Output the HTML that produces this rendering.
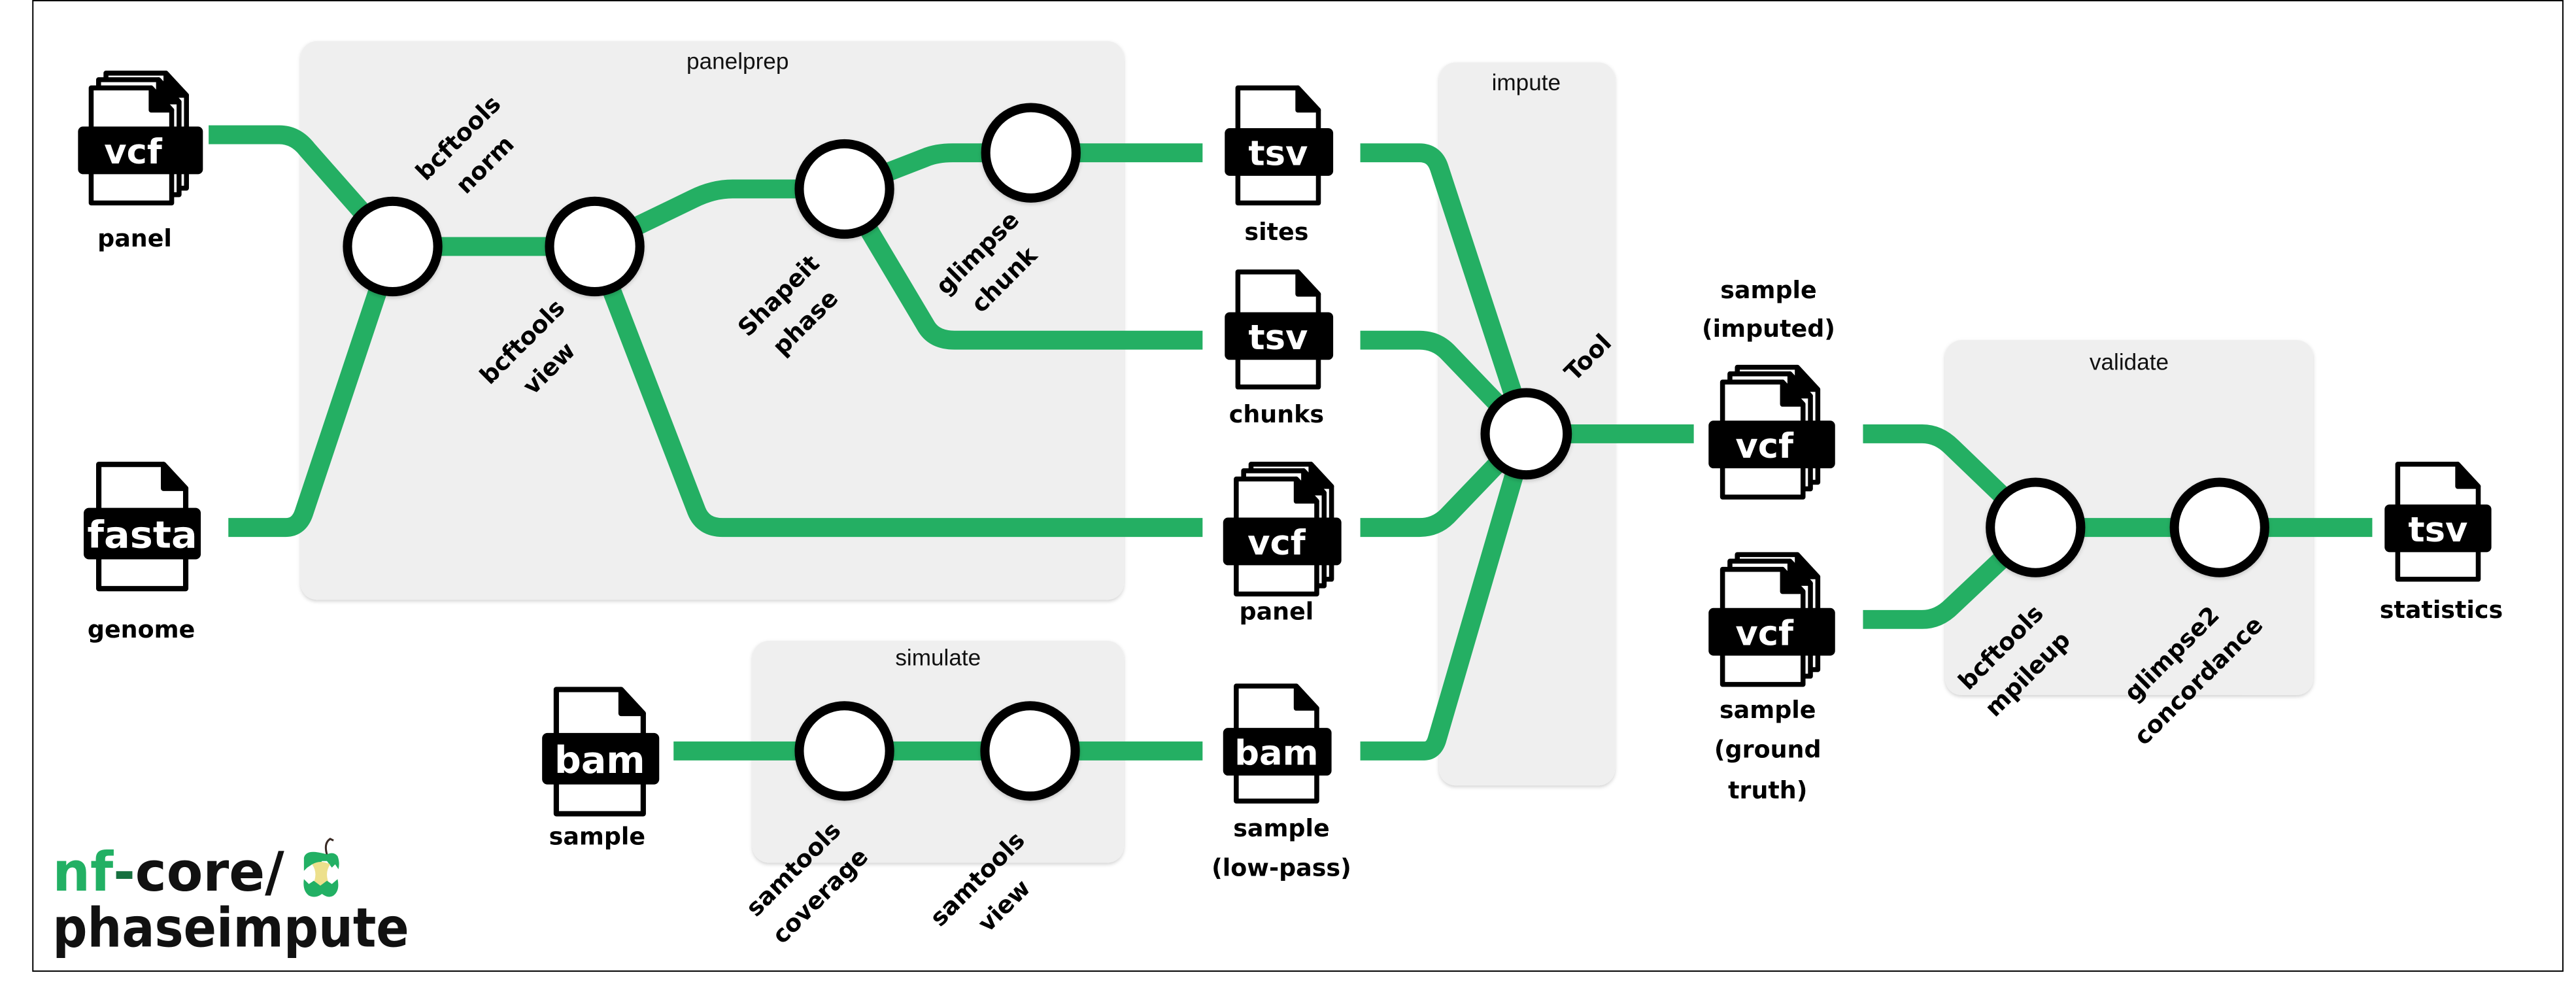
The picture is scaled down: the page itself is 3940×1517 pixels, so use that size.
<!DOCTYPE html>
<html><head><meta charset="utf-8"><style>
html,body{margin:0;padding:0;background:#fff;}
svg{display:block;}
.lbl{font-family:"DejaVu Sans","Liberation Sans",sans-serif;font-weight:bold;font-size:14.5px;text-anchor:middle;fill:#000;}
.box{font-family:"Liberation Sans",sans-serif;font-size:14px;text-anchor:middle;fill:#111;}
.ic{font-family:"DejaVu Sans","Liberation Sans",sans-serif;font-weight:bold;font-size:21px;text-anchor:middle;fill:#fff;}
.ln{fill:none;stroke:#24AF63;stroke-width:11.5;stroke-linejoin:round;}
.nd{fill:#fff;stroke:#000;stroke-width:5.6;}
.pg{fill:#fff;stroke:#000;stroke-width:3;stroke-linejoin:round;}
.fd{fill:#000;stroke:#000;stroke-width:3;stroke-linejoin:round;}
</style></head><body>
<svg width="3940" height="1517" viewBox="0 0 1568 603.7" preserveAspectRatio="none" xmlns="http://www.w3.org/2000/svg">
<defs>
<filter id="sh" x="-10%" y="-10%" width="120%" height="120%"><feDropShadow dx="0" dy="1" stdDeviation="1.2" flood-color="#000" flood-opacity="0.18"/></filter>
</defs>
<rect x="0" y="0" width="1568" height="603.7" fill="#fff"/>
<rect x="20" y="0.4" width="1540" height="590.6" fill="none" stroke="#000" stroke-width="0.8"/>

<!-- group boxes -->
<rect x="183" y="25" width="501" height="340" rx="10" fill="#efefef" filter="url(#sh)"/>
<rect x="458" y="390" width="226" height="135" rx="10" fill="#efefef" filter="url(#sh)"/>
<rect x="876" y="38" width="107" height="440" rx="10" fill="#efefef" filter="url(#sh)"/>
<rect x="1184" y="207" width="224" height="216" rx="10" fill="#efefef" filter="url(#sh)"/>
<text class="box" x="449" y="42">panelprep</text>
<text class="box" x="571" y="405">simulate</text>
<text class="box" x="929" y="55">impute</text>
<text class="box" x="1296" y="225">validate</text>

<!-- lines -->
<path class="ln" d="M127,82 H170 Q180,82 187,91 L239,150"/>
<path class="ln" d="M139,321 H174 Q182,321 185,312 L239,150"/>
<path class="ln" d="M239,150 H362"/>
<path class="ln" d="M362,150 L422,121 Q434,115 446,115 H514"/>
<path class="ln" d="M362,150 L424,311 Q428,321 440,321 H732"/>
<path class="ln" d="M514,115 L563,96 Q570,93 580,93 H627"/>
<path class="ln" d="M514,115 L564,199 Q569,207 581,207 H732"/>
<path class="ln" d="M627,93 H732"/>
<path class="ln" d="M828,93 H864 Q873,93 876,102 L929,264"/>
<path class="ln" d="M828,207 H864 Q874,207 881,214 L929,264"/>
<path class="ln" d="M828,321 H864 Q874,321 881,314 L929,264"/>
<path class="ln" d="M828,457 H867 Q873,457 875,449 L929,264"/>
<path class="ln" d="M929,264 H1031"/>
<path class="ln" d="M1134,264 H1170 Q1180,264 1188,272 L1239,321"/>
<path class="ln" d="M1134,377 H1170 Q1180,377 1188,369 L1239,321"/>
<path class="ln" d="M1239,321 H1444"/>
<path class="ln" d="M410,457 H732"/>

<!-- nodes -->
<g filter="url(#sh)">
<circle class="nd" cx="239" cy="150" r="27.5"/>
<circle class="nd" cx="362" cy="150" r="27.5"/>
<circle class="nd" cx="514" cy="115" r="27.5"/>
<circle class="nd" cx="627.5" cy="93" r="27.5"/>
<circle class="nd" cx="929" cy="264" r="25"/>
<circle class="nd" cx="514" cy="457" r="27.5"/>
<circle class="nd" cx="627" cy="457" r="27.5"/>
<circle class="nd" cx="1239" cy="321" r="27.5"/>
<circle class="nd" cx="1351" cy="321" r="27.5"/>
</g>

<!-- node labels -->
<g transform="translate(287,92) rotate(-45)"><text class="lbl" y="-6.5">bcftools</text><text class="lbl" y="16.5">norm</text></g>
<g transform="translate(326,216) rotate(-45)"><text class="lbl" y="-6.5">bcftools</text><text class="lbl" y="16.5">view</text></g>
<g transform="translate(482,188) rotate(-45)"><text class="lbl" y="-6.5">Shapeit</text><text class="lbl" y="16.5">phase</text></g>
<g transform="translate(603,162) rotate(-45)"><text class="lbl" y="-6.5">glimpse</text><text class="lbl" y="16.5">chunk</text></g>
<g transform="translate(966.5,217.5) rotate(-45)"><text class="lbl" y="5">Tool</text></g>
<g transform="translate(491,537) rotate(-45)"><text class="lbl" y="-6.5">samtools</text><text class="lbl" y="16.5">coverage</text></g>
<g transform="translate(603,543) rotate(-45)"><text class="lbl" y="-6.5">samtools</text><text class="lbl" y="16.5">view</text></g>
<g transform="translate(1226,402) rotate(-45)"><text class="lbl" y="-6.5">bcftools</text><text class="lbl" y="16.5">mpileup</text></g>
<g transform="translate(1330,406) rotate(-45)"><text class="lbl" y="-6.5">glimpse2</text><text class="lbl" y="16.5">concordance</text></g>

<!-- icons: multi vcf panel (left) -->
<g transform="translate(54,52)">
<path class="pg" d="M10.5,-7.5 H47 L59.5,6 V62.5 H10.5 Z"/><path class="fd" d="M47,-7.5 L59.5,6 H47 Z"/>
<path class="pg" d="M6,-3.5 H42.5 L55,10 V66.5 H6 Z"/><path class="fd" d="M42.5,-3.5 L55,10 H42.5 Z"/>
<path class="pg" d="M1.5,1.5 H38 L50.5,15 V71.5 H1.5 Z"/><path class="fd" d="M38,1.5 L50.5,15 H38 Z"/>
<rect x="-6.5" y="25" width="76" height="29" rx="3"/><text class="ic" x="27" y="47.5">vcf</text>
</g>
<text class="lbl" x="82" y="150">panel</text>

<!-- genome fasta -->
<g transform="translate(58.5,281) scale(1.08)">
<path class="pg" d="M1.5,1.5 H38 L50.5,15 V71.5 H1.5 Z"/><path class="fd" d="M38,1.5 L50.5,15 H38 Z"/>
<rect x="-7" y="26" width="66" height="29" rx="3"/><text class="ic" x="26" y="48.5" textLength="62" lengthAdjust="spacingAndGlyphs">fasta</text>
</g>
<text class="lbl" x="86" y="388">genome</text>

<!-- sites tsv -->
<g transform="translate(752,52)">
<path class="pg" d="M1.5,1.5 H38 L50.5,15 V71.5 H1.5 Z"/><path class="fd" d="M38,1.5 L50.5,15 H38 Z"/>
<rect x="-6.5" y="26" width="66" height="29" rx="3"/><text class="ic" x="26" y="48.5">tsv</text>
</g>
<text class="lbl" x="777" y="146">sites</text>

<!-- chunks tsv -->
<g transform="translate(752,164)">
<path class="pg" d="M1.5,1.5 H38 L50.5,15 V71.5 H1.5 Z"/><path class="fd" d="M38,1.5 L50.5,15 H38 Z"/>
<rect x="-6.5" y="26" width="66" height="29" rx="3"/><text class="ic" x="26" y="48.5">tsv</text>
</g>
<text class="lbl" x="777" y="257">chunks</text>

<!-- panel vcf (right) -->
<g transform="translate(751,290)">
<path class="pg" d="M10.5,-7.5 H47 L59.5,6 V62.5 H10.5 Z"/><path class="fd" d="M47,-7.5 L59.5,6 H47 Z"/>
<path class="pg" d="M6,-3.5 H42.5 L55,10 V66.5 H6 Z"/><path class="fd" d="M42.5,-3.5 L55,10 H42.5 Z"/>
<path class="pg" d="M1.5,1.5 H38 L50.5,15 V71.5 H1.5 Z"/><path class="fd" d="M38,1.5 L50.5,15 H38 Z"/>
<rect x="-6.5" y="25" width="72" height="29" rx="3"/><text class="ic" x="26" y="47.5">vcf</text>
</g>
<text class="lbl" x="777" y="377">panel</text>

<!-- bam low-pass -->
<g transform="translate(751,416)">
<path class="pg" d="M1.5,1.5 H38 L50.5,15 V71.5 H1.5 Z"/><path class="fd" d="M38,1.5 L50.5,15 H38 Z"/>
<rect x="-6.5" y="27" width="66" height="29" rx="3"/><text class="ic" x="26" y="49.5">bam</text>
</g>
<text class="lbl" x="780" y="509">sample</text>
<text class="lbl" x="780" y="533">(low-pass)</text>

<!-- sample bam (left) -->
<g transform="translate(337,418) scale(1.08)">
<path class="pg" d="M1.5,1.5 H38 L50.5,15 V71.5 H1.5 Z"/><path class="fd" d="M38,1.5 L50.5,15 H38 Z"/>
<rect x="-6.5" y="26" width="66" height="29" rx="3"/><text class="ic" x="26" y="48.5">bam</text>
</g>
<text class="lbl" x="363.5" y="514">sample</text>

<!-- imputed vcf -->
<text class="lbl" x="1076.5" y="181.5">sample</text>
<text class="lbl" x="1076.5" y="205">(imputed)</text>
<g transform="translate(1047,231)">
<path class="pg" d="M10.5,-7.5 H47 L59.5,6 V62.5 H10.5 Z"/><path class="fd" d="M47,-7.5 L59.5,6 H47 Z"/>
<path class="pg" d="M6,-3.5 H42.5 L55,10 V66.5 H6 Z"/><path class="fd" d="M42.5,-3.5 L55,10 H42.5 Z"/>
<path class="pg" d="M1.5,1.5 H38 L50.5,15 V71.5 H1.5 Z"/><path class="fd" d="M38,1.5 L50.5,15 H38 Z"/>
<rect x="-7" y="25" width="77" height="29" rx="3"/><text class="ic" x="27" y="47.5">vcf</text>
</g>

<!-- ground truth vcf -->
<g transform="translate(1047,345)">
<path class="pg" d="M10.5,-7.5 H47 L59.5,6 V62.5 H10.5 Z"/><path class="fd" d="M47,-7.5 L59.5,6 H47 Z"/>
<path class="pg" d="M6,-3.5 H42.5 L55,10 V66.5 H6 Z"/><path class="fd" d="M42.5,-3.5 L55,10 H42.5 Z"/>
<path class="pg" d="M1.5,1.5 H38 L50.5,15 V71.5 H1.5 Z"/><path class="fd" d="M38,1.5 L50.5,15 H38 Z"/>
<rect x="-7" y="25" width="77" height="29" rx="3"/><text class="ic" x="27" y="47.5">vcf</text>
</g>
<text class="lbl" x="1076" y="437">sample</text>
<text class="lbl" x="1076" y="461">(ground</text>
<text class="lbl" x="1076" y="486">truth)</text>

<!-- statistics tsv -->
<g transform="translate(1458,281)">
<path class="pg" d="M1.5,1.5 H38 L50.5,15 V71.5 H1.5 Z"/><path class="fd" d="M38,1.5 L50.5,15 H38 Z"/>
<rect x="-6.5" y="26" width="65" height="29" rx="3"/><text class="ic" x="26" y="48.5">tsv</text>
</g>
<text class="lbl" x="1486" y="376">statistics</text>

<!-- logo -->
<text x="32" y="542" font-family="'DejaVu Sans','Liberation Sans',sans-serif" font-weight="bold" font-size="33" textLength="141" lengthAdjust="spacingAndGlyphs"><tspan fill="#22B064">nf</tspan><tspan fill="#16703f">-</tspan><tspan fill="#111">core/</tspan></text>
<g>
<path d="M199,520 Q197,513 201,510.5 L203,511.5" fill="none" stroke="#3a2a24" stroke-width="1.2"/>
<path d="M185,522 Q186,518 192,518.5 Q196,519 199,520 Q203,518 205.5,521 Q207,525 206,529 L204,526 L202,528 L199,524 L196,524 L193,528 L190,526 L187,528 L185,530 Z" fill="#22B064"/>
<path d="M190,526 Q195,523 201,526 Q197,532 201,539 Q195,542 190,539 Q194,532 190,526 Z" fill="#ede08c"/>
<path d="M185,535 L188,538 L191,536 L195,539 L199,536 L202,538 L205.5,535 Q207,542 203,545 Q200,547 196,544 Q192,547 188,545 Q184,542 185,535 Z" fill="#22B064"/>
</g>
<text x="32" y="576" font-family="'DejaVu Sans','Liberation Sans',sans-serif" font-weight="bold" font-size="33" fill="#111" textLength="217" lengthAdjust="spacingAndGlyphs">phaseimpute</text>
</svg>
</body></html>
